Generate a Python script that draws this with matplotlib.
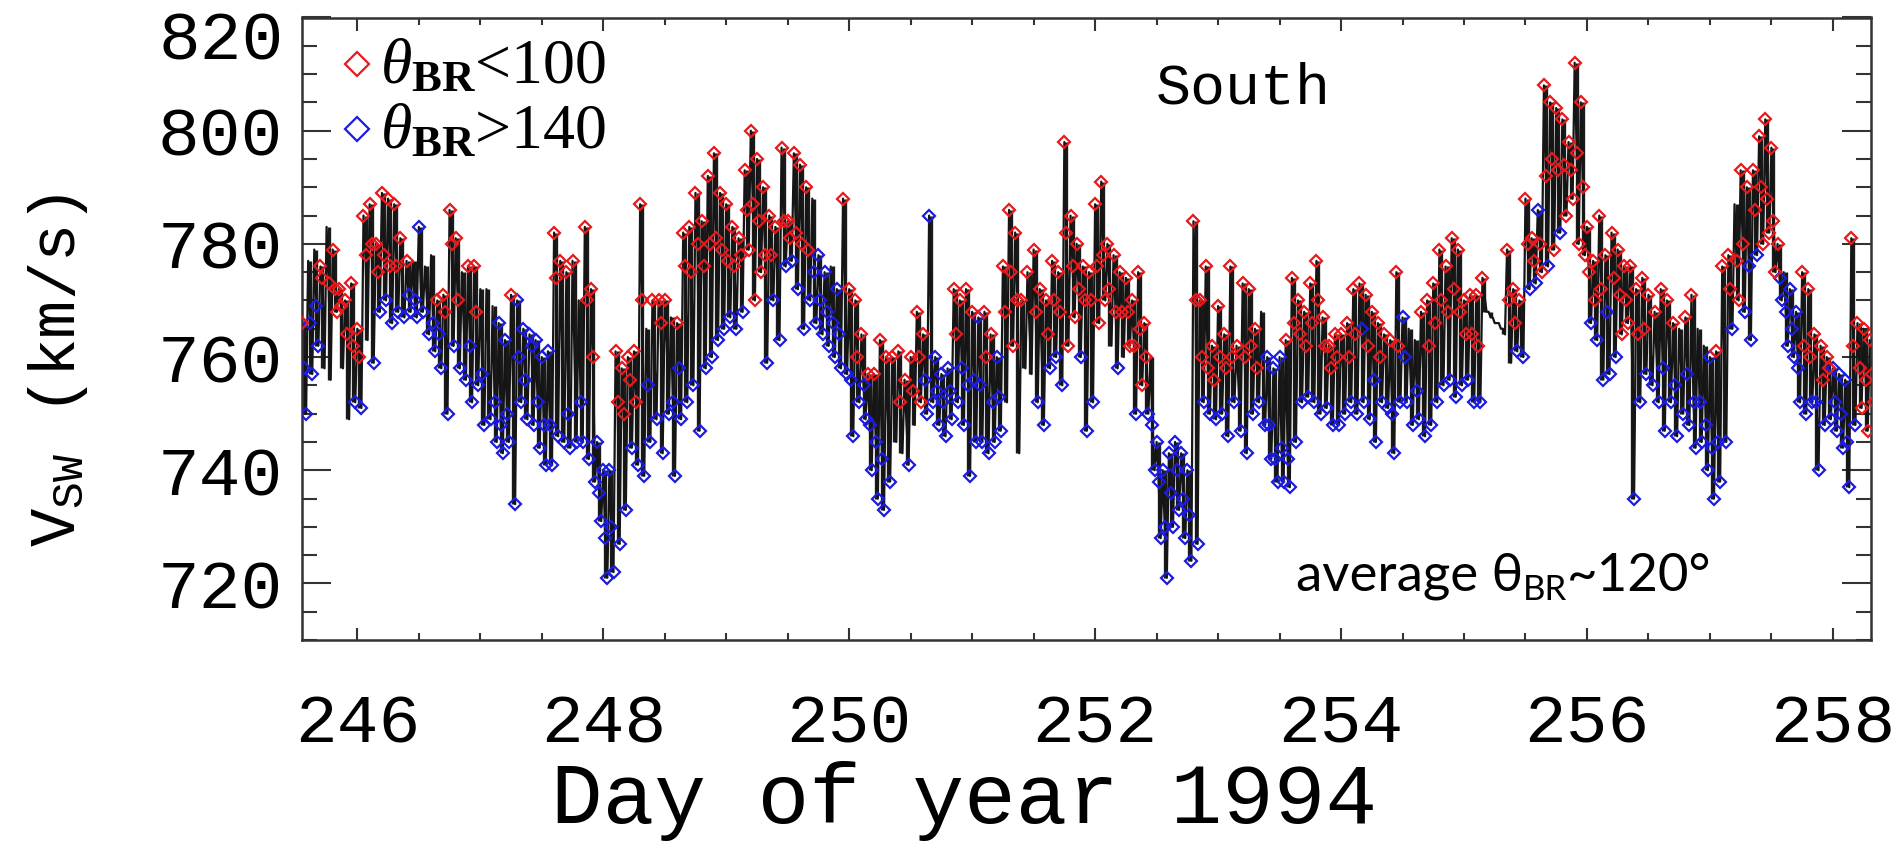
import numpy as np
import matplotlib.pyplot as plt
from matplotlib.ticker import MultipleLocator
from matplotlib.lines import Line2D

plt.rcParams['font.family'] = ['Liberation Mono', 'DejaVu Sans']
plt.rcParams['mathtext.fontset'] = 'custom'
plt.rcParams['mathtext.rm'] = 'Liberation Serif'
plt.rcParams['mathtext.it'] = 'Liberation Serif:italic'
plt.rcParams['mathtext.bf'] = 'Liberation Serif:bold'

# samples every 0.05 day from 245.55; for each bin the top, a middle and the
# bottom of the black trace (km/s) in half-day chunks
t_start = 245.55
t_step = 0.05

v_hi = [
    766, 777, 779, 776, 783, 779, 772, 770, 773, 765,
    785, 787, 780, 789, 788, 787, 781, 777, 777, 783,
    776, 778, 770, 771, 786, 781, 775, 776, 776, 772,
    772, 769, 766, 763, 771, 770, 765, 764, 763, 760,
    761, 782, 777, 775, 777, 770, 783, 772, 745, 740,
    740, 761, 758, 760, 761, 787, 765, 770, 770, 770,
    767, 766, 782, 783, 789, 784, 792, 796, 789, 787,
    783, 781, 793, 800, 795, 790, 785, 783, 797, 784,
    796, 794, 790, 788, 778, 775, 776, 772, 788, 772,
    770, 764, 757, 757, 763, 760, 760, 761, 756, 760,
    768, 764, 785, 760, 757, 758, 772, 770, 772, 768,
    767, 768, 764, 760, 776, 786, 782, 770, 775, 779,
    772, 770, 777, 775, 798, 785, 780, 776, 775, 787,
    791, 780, 778, 775, 774, 770, 775, 766, 760, 745,
    740, 743, 745, 743, 740, 784, 770, 776, 762, 769,
    764, 776, 762, 773, 772, 765, 768, 760, 758, 760,
    763, 774, 770, 768, 773, 777, 767, 762, 764, 764,
    766, 772, 773, 771, 768, 766, 764, 763, 775, 767,
    765, 763, 768, 770, 773, 779, 776, 781, 779, 770,
    771, 771, 774, 768, 766, 765, 779, 772, 770, 788,
    781, 786, 808, 805, 804, 802, 798, 812, 805, 783,
    777, 785, 778, 782, 779, 776, 776, 772, 774, 771,
    768, 772, 770, 766, 765, 767, 771, 765, 762, 760,
    761, 776, 778, 787, 793, 790, 793, 799, 802, 797,
    780, 775, 772, 768, 775, 772, 764, 762, 760, 758,
    757, 756, 781, 766, 765, 763,
]

v_mid = [
    758, 766, 769, 774, 773, 772, 769, 764, 762, 760,
    778, 780, 775, 778, 776, 776, 773, 771, 770, 772,
    770, 766, 764, 768, 780, 770, 765, 762, 768, 757,
    760, 752, 748, 750, 755, 760, 756, 762, 752, 748,
    748, 774, 760, 750, 760, 752, 770, 760, 736, 728,
    730, 752, 750, 756, 752, 770, 755, 760, 766, 762,
    752, 758, 776, 775, 780, 776, 780, 781, 779, 777,
    776, 778, 786, 787, 784, 778, 778, 774, 784, 781,
    782, 780, 779, 775, 770, 768, 766, 764, 770, 756,
    760, 755, 748, 745, 742, 748, 752, 752, 748, 754,
    760, 756, 765, 754, 752, 754, 764, 758, 755, 756,
    755, 760, 752, 753, 768, 775, 770, 764, 765, 768,
    760, 764, 770, 768, 782, 776, 772, 770, 770, 776,
    778, 772, 768, 768, 768, 762, 765, 760, 748, 738,
    730, 736, 740, 735, 732, 770, 760, 758, 756, 760,
    758, 760, 755, 760, 762, 758, 756, 748, 742, 744,
    742, 766, 764, 762, 766, 770, 762, 758, 760, 758,
    760, 764, 765, 762, 756, 760, 758, 750, 762, 760,
    756, 754, 758, 762, 766, 770, 768, 772, 768, 764,
    764, 762, 771, 767, 766, 765, 770, 766, 764, 780,
    777, 780, 792, 795, 793, 794, 793, 796, 790, 775,
    770, 772, 768, 774, 771, 770, 760, 764, 765, 762,
    760, 758, 762, 755, 758, 757, 752, 752, 748, 744,
    745, 760, 772, 777, 780, 776, 786, 790, 788, 784,
    774, 768, 765, 758, 762, 760, 752, 756, 758, 752,
    750, 745, 762, 758, 756, 757,
]

v_lo = [
    750, 757, 762, 758, 756, 768, 758, 749, 752, 751,
    763, 759, 768, 770, 766, 768, 767, 768, 767, 768,
    764, 761, 758, 750, 762, 758, 756, 752, 755, 748,
    749, 745, 743, 745, 734, 752, 749, 748, 744, 741,
    741, 746, 745, 744, 745, 745, 742, 738, 731, 721,
    722, 727, 733, 744, 741, 739, 745, 749, 743, 750,
    739, 749, 752, 755, 747, 758, 760, 763, 765, 767,
    765, 768, 779, 770, 775, 759, 770, 763, 776, 777,
    772, 765, 770, 766, 764, 762, 760, 758, 757, 746,
    752, 749, 740, 735, 733, 738, 745, 743, 741, 748,
    752, 750, 752, 748, 746, 749, 752, 748, 739, 745,
    745, 743, 745, 747, 752, 762, 743, 758, 757, 752,
    748, 758, 760, 755, 762, 767, 760, 747, 752, 766,
    770, 762, 758, 760, 762, 750, 755, 750, 740, 728,
    721, 730, 733, 728, 724, 727, 752, 750, 749, 750,
    746, 752, 747, 743, 750, 752, 748, 742, 738, 738,
    737, 745, 752, 753, 752, 750, 751, 748, 748, 750,
    752, 750, 752, 749, 745, 752, 751, 743, 752, 752,
    748, 749, 746, 748, 752, 755, 756, 753, 755, 756,
    752, 752, 768, 767, 766, 764, 759, 761, 760, 772,
    773, 775, 776, 779, 782, 785, 788, 780, 778, 766,
    763, 756, 757, 760, 764, 766, 735, 752, 757, 755,
    752, 747, 752, 746, 750, 748, 744, 745, 740, 735,
    738, 745, 765, 770, 768, 763, 778, 780, 782, 775,
    770, 762, 760, 752, 750, 752, 740, 748, 749, 747,
    744, 737, 748, 751, 747, 752,
]

# theta_BR class of each point: r = below 100, b = above 140, - = neither
hi_cls = ''.join([
    'r--r-rrrrr', 'rrrrrrrr-b', '--rrrr-rr-', '--bbrbbbbb', 'brrrr-rrbb',
    'brrrrr-rrr', '-rrrrrrrrr', 'rrrrrrrrrr', 'rrr-bb-brr', 'rrrrrrrrrr',
    'rrbbbbrrrr', 'brrbrrrrrr', 'rrrrrrrrrr', 'rrrrrrrr-b', 'bbbbbrrrrr',
    'rrrrrr-bbb', 'rrrrrrrrrr', 'rrrrrrrrrb', '--rrrrrrrr', 'rrr---rrrr',
    'rbrrrrrrrr', 'rrrrrrrrrr', 'rrrr-rr--b', 'rrr-rrrrrr', 'r-bbrrrrrb',
    'bbrrrr',
])
mid_cls = ''.join([
    'bbbrrrrrrr', 'rrrrrr-bb-', '-bbrrr-brb', '-bbb-bbbbb', 'br-b-brrbb',
    'brrrrrb-r-', 'bbrrrrrrrr', 'rrrrrrr-rr', 'rrrbbbbb-b', 'rbbbb--r-r',
    'rb-bbbrbbb', 'brbbrrr--r', '-rrrrrrrrr', 'rrrrrrrrbb', 'bbbbbrrrrr',
    'rr-rrr-bbb', 'brrrrrrrr-', 'rrbrbr-brb', '-b-rrrrrrr', 'rr----rr-r',
    'rrrrrrrrrr', 'rrbrrr-rr-', '-b-b-bbbbb', 'b-rrrbrrrr', 'bbbbrrbrrb',
    'bbrrrr',
])
lo_cls = ''.join([
    'bbb--r--bb', '-bbbbbbbbb', 'bbbbbbbbbb', 'bbbbbbbbbb', 'bbbbbbbbbb',
    'bbbbbbbbbb', 'bbbbbbbbbb', 'bbrrrbbbbb', 'bbbbbbbbbb', 'bbbbbb--b-',
    'rbbbbbbbbb', 'bbbb-r---b', 'bbbbrrbbbr', 'r-b-rbrbbb', 'bbbbbbbbbb',
    'bbbbbbbbbb', 'bbbbbbbbbb', 'bbbbbbbbbb', 'bbbbbbbbbb', 'bb-----bbb',
    'brbrbrrrrb', 'bbbbrrbbbb', 'bbbbbbbbbb', 'bbbrbbbrrr', 'bbbbbbbbbb',
    'bbbrrr',
])

t = t_start + t_step * np.arange(len(v_hi))
tt = np.column_stack([t, t + t_step / 3, t + 2 * t_step / 3]).ravel()
vv = np.column_stack([v_hi, v_mid, v_lo]).ravel()
cc = np.array([c for trio in zip(hi_cls, mid_cls, lo_cls) for c in trio])

W, H = 1897, 850
fig = plt.figure(figsize=(W / 100, H / 100), dpi=100)
ax = fig.add_axes([302 / W, 1 - 640 / H, (1871 - 302) / W, (640 - 17.5) / H])

ax.vlines(t + t_step / 3, v_lo, v_hi, color='#1a1a1a', lw=2.4, zorder=2)
ax.plot(tt, vv, color='#151515', lw=1.6, zorder=2)
blue = cc == 'b'
red = cc == 'r'
ax.plot(tt[blue], vv[blue], ls='none', marker='D', ms=5.8, mfc='none',
        mec='#1c1ce0', mew=1.6, zorder=3)
ax.plot(tt[red], vv[red], ls='none', marker='D', ms=5.8, mfc='none',
        mec='#e8191c', mew=1.6, zorder=4)

ax.set_xlim(245.55, 258.31)
ax.set_ylim(710, 820)
ax.set_xticks([246, 248, 250, 252, 254, 256, 258])
ax.xaxis.set_minor_locator(MultipleLocator(0.5))
ax.set_yticks([720, 740, 760, 780, 800, 820])
ax.set_yticklabels(['720', '740', '760', '780', '800', ''])
ax.yaxis.set_minor_locator(MultipleLocator(5))
ax.tick_params(which='both', direction='in', top=True, right=True,
               width=1.5, color='#333333')
ax.tick_params(axis='y', which='major', length=21, pad=14, labelsize=50)
ax.tick_params(axis='y', which='minor', length=11)
ax.tick_params(axis='x', which='major', length=9, pad=38, labelsize=50)
ax.tick_params(axis='x', which='minor', length=5)
for s in ax.spines.values():
    s.set_linewidth(1.8)
    s.set_color('#333333')

fig.text(284 / W, 1 - 42 / H, '820', ha='right', va='center', size=50)

fig.text(58 / W, 1 - 370 / H, r'V$_{\mathregular{SW}}$ (km/s)', rotation=90,
         ha='center', va='center', size=46)
fig.text(964 / W, 1 - 823 / H, 'Day of year 1994', ha='center',
         va='baseline', size=62)
fig.text(1243 / W, 1 - 103 / H, 'South', ha='center', va='baseline', size=42)

# legend
for yc, col, lab in [(64, '#e8191c', r'$\theta_{\mathbf{BR}}$<100'),
                     (129, '#1c1ce0', r'$\theta_{\mathbf{BR}}$>140')]:
    fig.add_artist(Line2D([357 / W], [1 - yc / H], ls='none', marker='D',
                          ms=12, mfc='none', mec=col, mew=1.6,
                          transform=fig.transFigure))
    fig.text(380 / W, 1 - (yc + 19) / H, lab, ha='left', va='baseline',
             size=46, family='Liberation Serif')

# annotation added on top of the figure
fam = ['Lato', 'DejaVu Sans']
r = fig.canvas.get_renderer()
y0 = 1 - 591 / H
a1 = fig.text(1296 / W, y0, 'average θ', ha='left', va='baseline',
              size=38, family=fam)
x1 = a1.get_window_extent(r).x1
a2 = fig.text(x1 / W, y0 - 9 / H, 'BR', ha='left', va='baseline',
              size=25, family=fam)
x2 = a2.get_window_extent(r).x1
fig.text(x2 / W, y0, '~120°', ha='left', va='baseline', size=38, family=fam)

fig.savefig('out.png', dpi=100)
